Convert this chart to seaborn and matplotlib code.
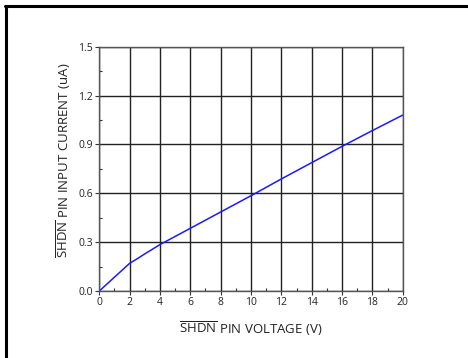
import matplotlib
matplotlib.use("Agg")
import matplotlib.pyplot as plt
from matplotlib.lines import Line2D
from matplotlib.ticker import MultipleLocator
import seaborn as sns
import pandas as pd

# SHDN pin voltage (V) and resulting input current (uA)
voltage = [0, 1, 2, 2.5, 3, 4, 6, 8, 10, 12, 14, 16, 18, 20]
current = [0, 0.085, 0.17, 0.198, 0.228, 0.285, 0.385, 0.485, 0.585, 0.688, 0.788, 0.888, 0.985, 1.08]

x_ticks = [0, 2, 4, 6, 8, 10, 12, 14, 16, 18, 20]
y_ticks = [0.0, 0.3, 0.6, 0.9, 1.2, 1.5]

sns.set_theme(style="white")
plt.rcParams["font.family"] = ["Open Sans", "DejaVu Sans"]
plt.rcParams["mathtext.fontset"] = "custom"
plt.rcParams["mathtext.rm"] = "Open Sans"
plt.rcParams["mathtext.it"] = "Open Sans"

df = pd.DataFrame({"V": voltage, "I": current})

fig = plt.figure(figsize=(4.68, 3.58), dpi=100)
W, H = 468, 358
ax = fig.add_axes([99.3 / W, 1 - 291 / H, (402.7 - 99.3) / W, (291 - 46.7) / H])

sns.lineplot(data=df, x="V", y="I", ax=ax, color="#1a1aff", linewidth=1.1)

ax.set_xlim(0, 20)
ax.set_ylim(0, 1.5)
ax.set_xticks(x_ticks)
ax.set_yticks(y_ticks)
ax.set_xticklabels([str(t) for t in x_ticks])
ax.set_yticklabels([f"{t:.1f}" for t in y_ticks])
ax.xaxis.set_minor_locator(MultipleLocator(1))
ax.yaxis.set_minor_locator(MultipleLocator(0.15))

ax.grid(True, which="major", color="#222222", linewidth=1.0)
for s in ax.spines.values():
    s.set_color("#555555")
    s.set_linewidth(1.0)

ax.tick_params(which="major", direction="out", length=3, width=0.8, color="#333333",
               labelsize=7.5, labelcolor="#222222", pad=1.5, bottom=True, left=True)
ax.tick_params(which="minor", direction="in", length=2.5, width=0.8, color="#333333",
               bottom=True, left=True)

ax.set_xlabel(r"$\overline{\mathrm{SHDN}}$ PIN VOLTAGE (V)", fontsize=9.5, color="#222222", labelpad=8)
ax.set_ylabel(r"$\overline{\mathrm{SHDN}}$ PIN INPUT CURRENT (uA)", fontsize=9.5, color="#222222")
ax.yaxis.set_label_coords(-0.087, 0.536)

# frame lines along the top and left of the figure
fig.add_artist(Line2D([5 / W, 1], [1 - 6 / H, 1 - 6 / H], color="black", linewidth=2.2,
                      transform=fig.transFigure))
fig.add_artist(Line2D([5.5 / W, 5.5 / W], [0, 1 - 6 / H], color="black", linewidth=2.2,
                      transform=fig.transFigure))

fig.savefig("out.png", dpi=100, facecolor="white")
